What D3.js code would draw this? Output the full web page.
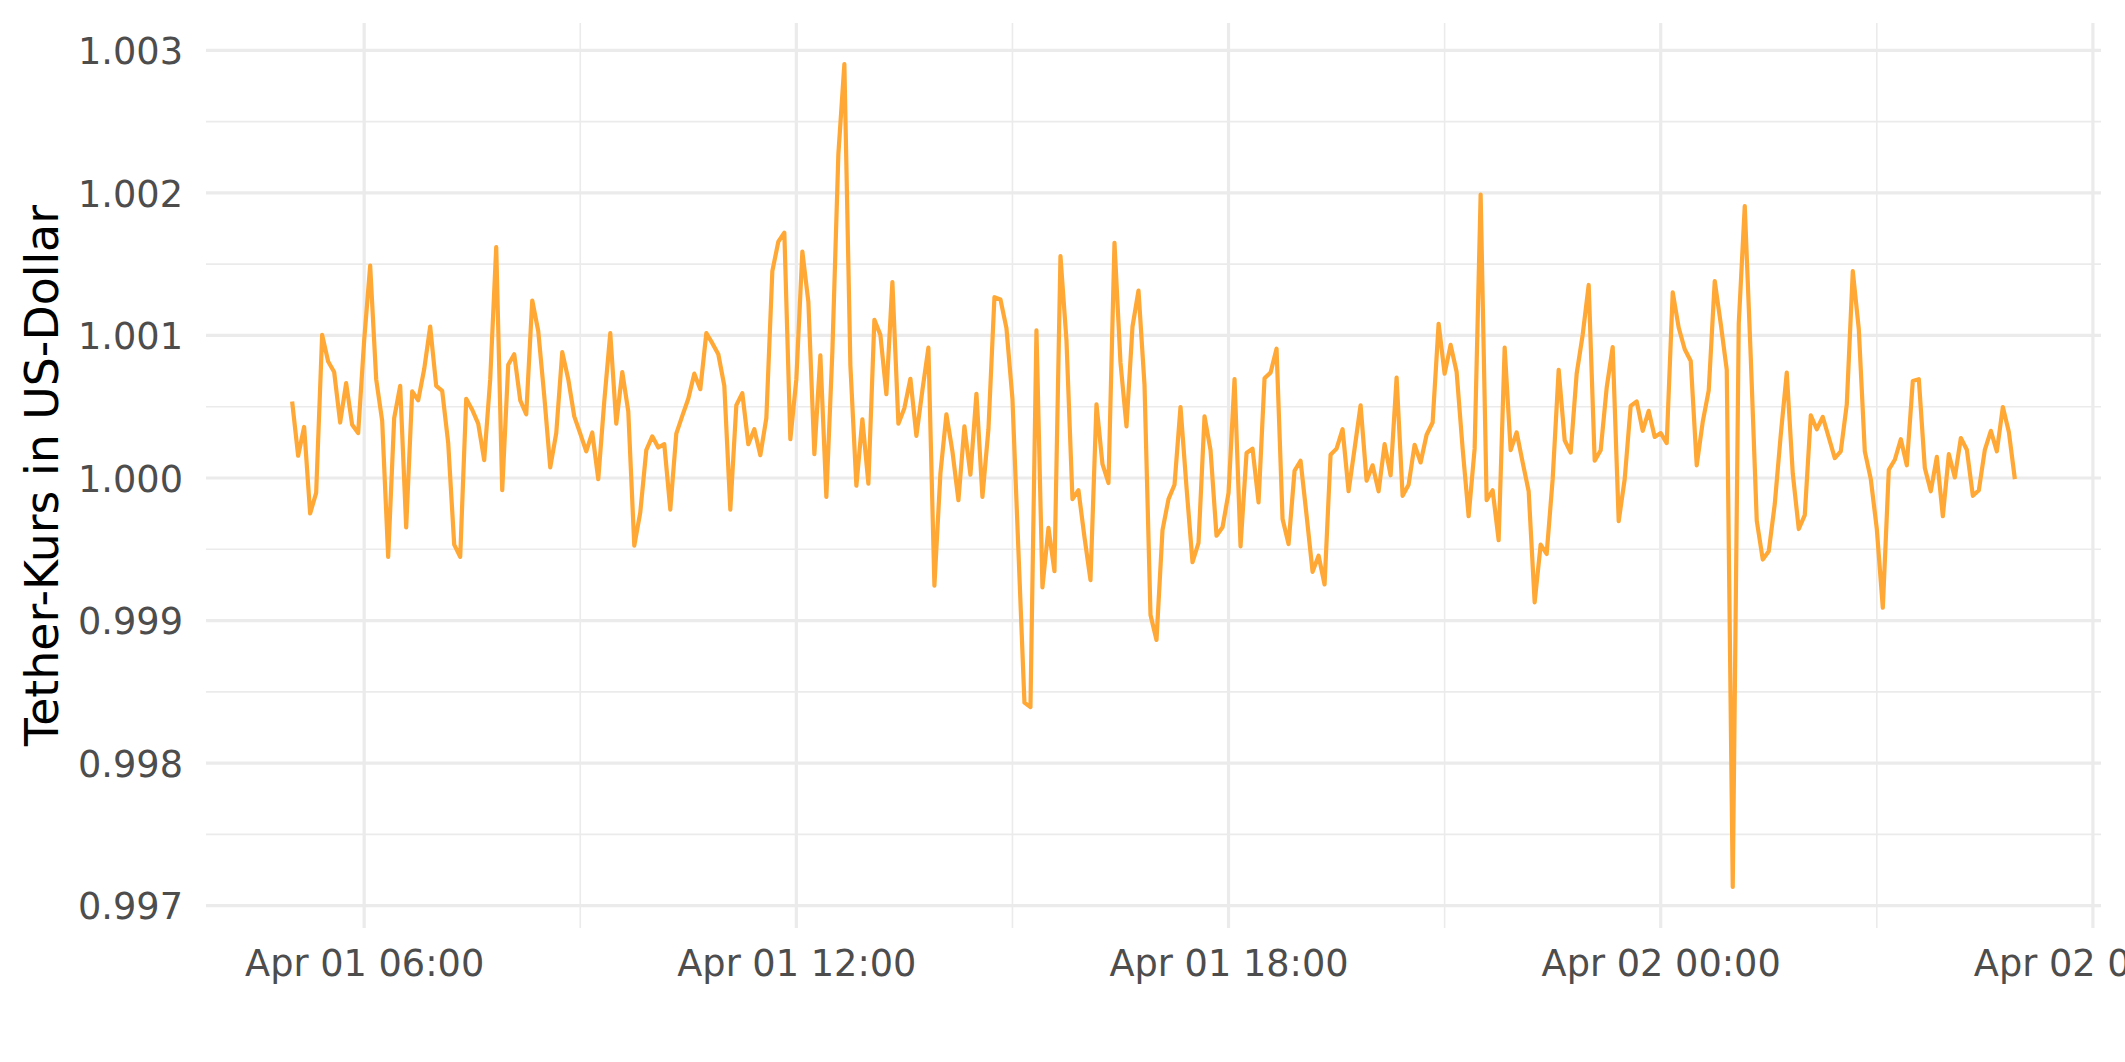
<!DOCTYPE html>
<html>
<head>
<meta charset="utf-8">
<script src="https://cdn.jsdelivr.net/npm/d3@7"></script>
<style>
  html, body { margin: 0; padding: 0; background: #ffffff; }
  svg { display: block; }
  text { font-family: "DejaVu Sans", sans-serif; }
</style>
</head>
<body>
<svg id="chart" width="2125" height="1062"></svg>
<script>
// ---- data ----
const startTime = Date.UTC(2024, 3, 1, 5, 0); // Apr 01 05:00
const stepMinutes = 5;
const kurs = [
  1.000537, 1.000156, 1.000358, 0.999751, 0.999895, 1.001004, 1.000817, 1.000743, 1.000389, 1.000665,
  1.000374, 1.000315, 1.000965, 1.001490, 1.000693, 1.000401, 0.999447, 1.000420, 1.000646, 0.999654,
  1.000607, 1.000545, 1.000763, 1.001062, 1.000646, 1.000611, 1.000245, 0.999533, 0.999447, 1.000556,
  1.000479, 1.000381, 1.000125, 1.000693, 1.001619, 0.999914, 1.000794, 1.000868, 1.000545, 1.000447,
  1.001245, 1.001031, 1.000576, 1.000074, 1.000315, 1.000883, 1.000693, 1.000432, 1.000311, 1.000187,
  1.000319, 0.999992, 1.000537, 1.001016, 1.000381, 1.000743, 1.000467, 0.999525, 0.999759, 1.000195,
  1.000292, 1.000214, 1.000237, 0.999778, 1.000311, 1.000436, 1.000556, 1.000732, 1.000623, 1.001016,
  1.000946, 1.000868, 1.000646, 0.999778, 1.000510, 1.000595, 1.000237, 1.000342, 1.000160, 1.000420,
  1.001451, 1.001658, 1.001720, 1.000272, 1.000693, 1.001588, 1.001237, 1.000167, 1.000860, 0.999868,
  1.000887, 1.002272, 1.002903, 1.000790, 0.999946, 1.000412, 0.999961, 1.001109, 1.001004, 1.000588,
  1.001374, 1.000381, 1.000490, 1.000696, 1.000296, 1.000615, 1.000914, 0.999245, 1.000031, 1.000447,
  1.000187, 0.999844, 1.000362, 1.000023, 1.000591, 0.999868, 1.000342, 1.001268, 1.001253, 1.001051,
  1.000556, 0.999486, 0.998424, 0.998393, 1.001035, 0.999233, 0.999650, 0.999346, 1.001556, 1.000965,
  0.999852, 0.999914, 0.999584, 0.999284, 1.000517, 1.000097, 0.999965, 1.001650, 1.000809, 1.000362,
  1.001062, 1.001315, 1.000654, 0.999039, 0.998864, 0.999634, 0.999852, 0.999953, 1.000498, 0.999934,
  0.999409, 0.999545, 1.000432, 1.000195, 0.999595, 0.999654, 0.999895, 1.000693, 0.999521, 1.000175,
  1.000206, 0.999829, 1.000700, 1.000739, 1.000907, 0.999712, 0.999537, 1.000051, 1.000121, 0.999739,
  0.999342, 0.999455, 0.999253, 1.000163, 1.000206, 1.000342, 0.999907, 1.000206, 1.000510, 0.999981,
  1.000089, 0.999907, 1.000237, 1.000019, 1.000704, 0.999875, 0.999953, 1.000233, 1.000109, 1.000303,
  1.000389, 1.001082, 1.000732, 1.000934, 1.000743, 1.000206, 0.999732, 1.000206, 1.001988, 0.999844,
  0.999914, 0.999564, 1.000914, 1.000195, 1.000319, 1.000109, 0.999907, 0.999128, 0.999533, 0.999467,
  0.999992, 1.000759, 1.000265, 1.000179, 1.000732, 1.001004, 1.001354, 1.000121, 1.000195, 1.000634,
  1.000918, 0.999697, 0.999992, 1.000506, 1.000537, 1.000331, 1.000471, 1.000288, 1.000315, 1.000245,
  1.001303, 1.001054, 1.000903, 1.000821, 1.000089, 1.000393, 1.000615, 1.001381, 1.001082, 1.000759,
  0.997132, 1.001082, 1.001907, 1.000848, 0.999700, 0.999428, 0.999486, 0.999817, 1.000303, 1.000739,
  1.000031, 0.999642, 0.999739, 1.000440, 1.000342, 1.000428, 1.000284, 1.000140, 1.000187, 1.000517,
  1.001451, 1.001043, 1.000187, 0.999992, 0.999642, 0.999090, 1.000058, 1.000128, 1.000272, 1.000089,
  1.000681, 1.000693, 1.000070, 0.999907, 1.000148, 0.999732, 1.000167, 1.000004, 1.000280, 1.000198,
  0.999875, 0.999914, 1.000198, 1.000331, 1.000187, 1.000498, 1.000323, 0.999992
];
const yTicks = [0.997, 0.998, 0.999, 1.000, 1.001, 1.002, 1.003];
const yMinorTicks = [0.9975, 0.9985, 0.9995, 1.0005, 1.0015, 1.0025];
const xTicks = [
  Date.UTC(2024, 3, 1, 6), Date.UTC(2024, 3, 1, 12), Date.UTC(2024, 3, 1, 18),
  Date.UTC(2024, 3, 2, 0), Date.UTC(2024, 3, 2, 6)
];
const xMinorTicks = [
  Date.UTC(2024, 3, 1, 9), Date.UTC(2024, 3, 1, 15), Date.UTC(2024, 3, 1, 21), Date.UTC(2024, 3, 2, 3)
];
const yTitle = "Tether-Kurs in US-Dollar";

// ---- build ----
const series = kurs.map((v, i) => ({ t: new Date(startTime + i * stepMinutes * 60000), v }));

const panel = { left: 206, right: 2101, top: 23, bottom: 928 };

const tExt = d3.extent(series, d => +d.t);
const tPad = (tExt[1] - tExt[0]) * 0.05;
const x = d3.scaleUtc()
  .domain([new Date(tExt[0] - tPad), new Date(tExt[1] + tPad)])
  .range([panel.left, panel.right]);

const vExt = d3.extent(series, d => d.v);
const vPad = (vExt[1] - vExt[0]) * 0.05;
const y = d3.scaleLinear()
  .domain([vExt[0] - vPad, vExt[1] + vPad])
  .range([panel.bottom, panel.top]);

const svg = d3.select("#chart");
svg.append("rect").attr("width", 2125).attr("height", 1062).attr("fill", "#ffffff");

const grid = svg.append("g");
// minor grid
grid.selectAll("line.ymin").data(yMinorTicks).join("line")
  .attr("x1", panel.left).attr("x2", panel.right)
  .attr("y1", d => y(d)).attr("y2", d => y(d))
  .attr("stroke", "#EBEBEB").attr("stroke-width", 1.6);
grid.selectAll("line.xmin").data(xMinorTicks).join("line")
  .attr("x1", d => x(new Date(d))).attr("x2", d => x(new Date(d)))
  .attr("y1", panel.top).attr("y2", panel.bottom)
  .attr("stroke", "#EBEBEB").attr("stroke-width", 1.6);
// major grid
grid.selectAll("line.ymaj").data(yTicks).join("line")
  .attr("x1", panel.left).attr("x2", panel.right)
  .attr("y1", d => y(d)).attr("y2", d => y(d))
  .attr("stroke", "#EBEBEB").attr("stroke-width", 3.2);
grid.selectAll("line.xmaj").data(xTicks).join("line")
  .attr("x1", d => x(new Date(d))).attr("x2", d => x(new Date(d)))
  .attr("y1", panel.top).attr("y2", panel.bottom)
  .attr("stroke", "#EBEBEB").attr("stroke-width", 3.2);

// line
const line = d3.line().x(d => x(d.t)).y(d => y(d.v));
svg.append("path").datum(series)
  .attr("d", line)
  .attr("fill", "none")
  .attr("stroke", "#FFA836")
  .attr("stroke-width", 4.2)
  .attr("stroke-linejoin", "round")
  .attr("stroke-linecap", "butt");

// axes
const yAxis = d3.axisLeft(y).tickValues(yTicks).tickFormat(d3.format(".3f")).tickSize(0).tickPadding(23);
const gy = svg.append("g").attr("transform", `translate(${panel.left},0)`).call(yAxis);
gy.select(".domain").remove();
gy.selectAll("text").attr("font-size", 36.7).attr("fill", "#4D4D4D")
  .attr("font-family", "DejaVu Sans").attr("dy", "0.36em");

const xAxis = d3.axisBottom(x).tickValues(xTicks.map(d => new Date(d)))
  .tickFormat(d3.utcFormat("%b %d %H:%M")).tickSize(0).tickPadding(22);
const gx = svg.append("g").attr("transform", `translate(0,${panel.bottom})`).call(xAxis);
gx.select(".domain").remove();
gx.selectAll("text").attr("font-size", 36.7).attr("fill", "#4D4D4D").attr("font-family", "DejaVu Sans");

// y title
svg.append("text")
  .attr("transform", `translate(58,${(panel.top + panel.bottom) / 2}) rotate(-90)`)
  .attr("text-anchor", "middle")
  .attr("font-size", 45.8)
  .attr("fill", "#000000")
  .text(yTitle);
</script>
</body>
</html>
